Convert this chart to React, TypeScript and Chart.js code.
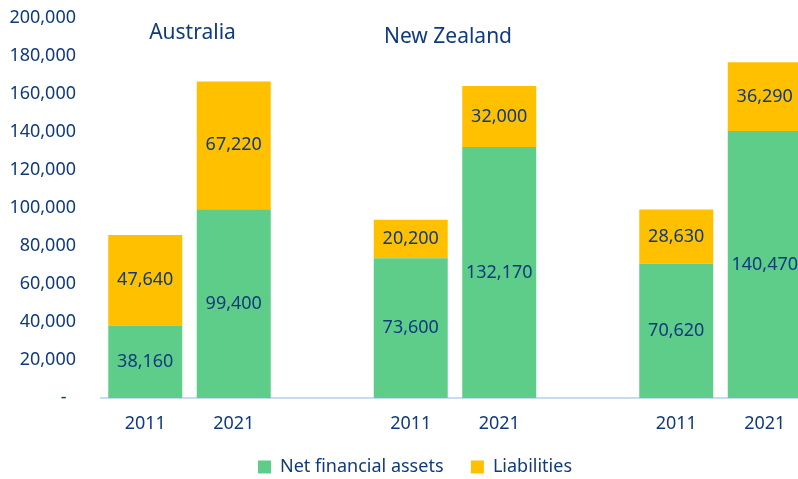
import React, { useEffect, useRef } from "react";
import { Chart, registerables } from "chart.js";

Chart.register(...registerables);

const categories = ["2011", "2021", "", "2011", "2021", "", "2011", "2021"];
const netFinancialAssets = [38160, 99400, null, 73600, 132170, null, 70620, 140470];
const liabilities = [47640, 67220, null, 20200, 32000, null, 28630, 36290];
const groupTitles = ["Australia", "New Zealand"];
const yTicks = [0, 20000, 40000, 60000, 80000, 100000, 120000, 140000, 160000, 180000, 200000];

const NAVY = "#0f3a7e";
const GREEN = "#5fcd8a";
const YELLOW = "#ffc000";
const FONT = "'Noto Sans', sans-serif";

const fmt = (v: number) => v.toLocaleString("en-US");

const segmentLabels = {
  id: "segmentLabels",
  afterDatasetsDraw(chart: any) {
    const ctx = chart.ctx;
    ctx.save();
    ctx.font = `18px ${FONT}`;
    ctx.fillStyle = NAVY;
    ctx.textAlign = "center";
    ctx.textBaseline = "middle";
    chart.data.datasets.forEach((ds: any, di: number) => {
      const meta = chart.getDatasetMeta(di);
      meta.data.forEach((bar: any, i: number) => {
        const v = ds.data[i];
        if (v == null) return;
        const { x, y, base } = bar.getProps(["x", "y", "base"], true);
        ctx.fillText(fmt(v), x, (y + base) / 2);
      });
    });
    ctx.restore();
  },
};

const groupTitlePlugin = {
  id: "groupTitles",
  afterDraw(chart: any) {
    const ctx = chart.ctx;
    const xs = chart.scales.x;
    const ys = chart.scales.y;
    ctx.save();
    ctx.font = `21px ${FONT}`;
    ctx.fillStyle = NAVY;
    ctx.textAlign = "center";
    ctx.textBaseline = "middle";
    const offsets = [{ dx: 3, v: 192000 }, { dx: -7, v: 190000 }];
    groupTitles.forEach((t, g) => {
      const x = xs.getPixelForValue(g * 3 + 0.5) + offsets[g].dx;
      const y = ys.getPixelForValue(offsets[g].v);
      ctx.fillText(t, x, y);
    });
    ctx.restore();
  },
};

export default function App() {
  const ref = useRef<HTMLCanvasElement>(null);
  useEffect(() => {
    if (!ref.current) return;
    const chart = new Chart(ref.current, {
      type: "bar",
      data: {
        labels: categories,
        datasets: [
          {
            label: "Net financial assets",
            data: netFinancialAssets,
            backgroundColor: GREEN,
            barPercentage: 0.836,
            categoryPercentage: 1,
          },
          {
            label: "Liabilities",
            data: liabilities,
            backgroundColor: YELLOW,
            barPercentage: 0.836,
            categoryPercentage: 1,
          },
        ],
      },
      options: {
        animation: false,
        responsive: false,
        layout: { padding: { top: 11, left: 0, right: 0, bottom: 0 } },
        plugins: {
          legend: {
            position: "bottom",
            labels: {
              font: { family: FONT, size: 18 },
              color: NAVY,
              boxWidth: 13,
              boxHeight: 13,
              padding: 4,
              generateLabels: (chart: any) => {
                const items = (Chart.defaults.plugins.legend.labels as any).generateLabels(chart);
                return items.map((it: any, i: number) =>
                  i < items.length - 1 ? { ...it, text: it.text + "     " } : it
                );
              },
            },
          },
          tooltip: { enabled: false },
        },
        scales: {
          x: {
            stacked: true,
            grid: { display: false, drawTicks: false },
            border: { display: true, color: "#c8dcf0", width: 2 },
            ticks: { color: NAVY, font: { family: FONT, size: 18 }, padding: 15, maxRotation: 0 },
            afterFit: (s: any) => {
              s.height = 56;
            },
          },
          y: {
            stacked: true,
            min: 0,
            max: 200000,
            afterBuildTicks: (s: any) => {
              s.ticks = yTicks.map((v) => ({ value: v }));
            },
            afterFit: (s: any) => {
              s.width = 101;
              s.paddingTop = 0;
              s.paddingBottom = 0;
            },
            grid: { display: false, drawTicks: false },
            border: { display: false },
            ticks: {
              color: NAVY,
              font: { family: FONT, size: 18 },
              padding: 25,
              callback: (v: any) => (Number(v) === 0 ? "-  " : fmt(Number(v))),
            },
          },
          yRight: {
            position: "right",
            display: true,
            grid: { display: false, drawTicks: false },
            border: { display: false },
            ticks: { display: false },
            afterFit: (s: any) => {
              s.width = 21;
              s.paddingTop = 0;
              s.paddingBottom = 0;
            },
          },
        },
      },
      plugins: [segmentLabels, groupTitlePlugin],
    } as any);
    return () => chart.destroy();
  }, []);
  return (
    <div style={{ position: "fixed", left: 0, top: 0, width: 798, height: 479, overflow: "hidden", background: "#fff" }}>
      <canvas ref={ref} width={830} height={479} style={{ display: "block", position: "absolute", left: 0, top: 7 }} />
    </div>
  );
}
